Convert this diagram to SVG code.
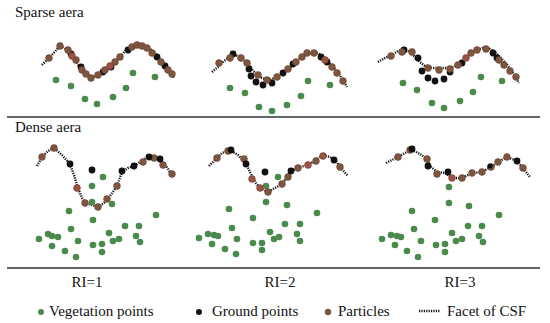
<svg xmlns="http://www.w3.org/2000/svg" width="550" height="323" viewBox="0 0 550 323">
<defs>
<style>
text{font-family:"Liberation Serif","Times New Roman",serif;font-size:15px;fill:#111}
.csf{fill:none;stroke:#111;stroke-width:2.4;stroke-dasharray:1.2 1.2;stroke-linejoin:round}
.v{fill:#4a8a4c}
.g{fill:#121010}
.p{fill:#7e5640;stroke:#6a4434;stroke-width:0.6}
.pr{fill:#9a5246;stroke:#7a3c34;stroke-width:0.6}
.rule{stroke:#333;stroke-width:1.6}
</style>
</defs>
<rect width="550" height="323" fill="#fff"/>
<text x="15" y="17">Sparse aera</text>
<text x="15" y="132">Dense aera</text>
<line class="rule" x1="7" y1="117" x2="540" y2="117"/>
<line class="rule" x1="7" y1="268" x2="540" y2="268"/>

<g id="sparse-ri1">
<polyline class="csf" points="42,65 50,57 60,46 68,50 74,58 79,66 84,72 91,78 99,74 106,69 113,63 120,57 126,50 132,46 140,44 148,47 155,53 162,61 168,68 174,78"/>
<g class="v"><circle cx="56" cy="80" r="3.3"/><circle cx="71" cy="86" r="3.3"/><circle cx="85" cy="99" r="3.3"/><circle cx="97" cy="104" r="3.3"/><circle cx="113" cy="97" r="3.3"/><circle cx="126" cy="88" r="3.3"/><circle cx="133" cy="73" r="3.3"/><circle cx="155" cy="77" r="3.3"/></g>
<g class="g"><circle cx="71" cy="54" r="3.4"/><circle cx="81" cy="67" r="3.4"/><circle cx="103" cy="72" r="3.4"/><circle cx="111" cy="67" r="3.4"/><circle cx="128" cy="50" r="3.4"/><circle cx="157" cy="57" r="3.4"/><circle cx="165" cy="66" r="3.4"/></g>
<g class="p"><circle cx="49" cy="58" r="3.4"/><circle cx="60" cy="46" r="3.4"/><circle cx="68" cy="50" r="3.4"/><circle cx="76" cy="60" r="3.4"/><circle cx="82" cy="70" r="3.4"/><circle cx="86" cy="74" r="3.4"/><circle cx="91" cy="78" r="3.4"/><circle cx="98" cy="75" r="3.4"/><circle cx="105" cy="70" r="3.4"/><circle cx="115" cy="62" r="3.4"/><circle cx="120" cy="57" r="3.4"/><circle cx="132" cy="47" r="3.4"/><circle cx="137" cy="45" r="3.4"/><circle cx="142" cy="46" r="3.4"/><circle cx="147" cy="48" r="3.4"/><circle cx="152" cy="53" r="3.4"/><circle cx="161" cy="62" r="3.4"/><circle cx="168" cy="70" r="3.4"/><circle cx="172" cy="74" r="3.4"/></g>
<g class="pr"><circle cx="72" cy="56" r="3.4"/><circle cx="110" cy="66" r="3.4"/></g>
</g>

<g id="sparse-ri2">
<polyline class="csf" points="212,72 218,67 224,61 233,54 240,57 246,62 251,68 256,74 262,78 268,80 275,78 282,73 288,69 294,64 300,58 306,54 312,53 318,53 323,57 328,62 333,67 338,73 343,80 347,87"/>
<g class="v"><circle cx="230" cy="88" r="3.3"/><circle cx="245" cy="93" r="3.3"/><circle cx="259" cy="107" r="3.3"/><circle cx="272" cy="111" r="3.3"/><circle cx="287" cy="105" r="3.3"/><circle cx="301" cy="96" r="3.3"/><circle cx="308" cy="81" r="3.3"/><circle cx="330" cy="85" r="3.3"/></g>
<g class="g"><circle cx="233" cy="54" r="3.4"/><circle cx="249" cy="69" r="3.4"/><circle cx="251" cy="76" r="3.4"/><circle cx="256" cy="82" r="3.4"/><circle cx="263" cy="85" r="3.4"/><circle cx="272" cy="83" r="3.4"/><circle cx="283" cy="73" r="3.4"/><circle cx="293" cy="64" r="3.4"/><circle cx="321" cy="57" r="3.4"/><circle cx="327" cy="62" r="3.4"/></g>
<g class="p"><circle cx="219" cy="63" r="3.4"/><circle cx="230" cy="58" r="3.4"/><circle cx="241" cy="58" r="3.4"/><circle cx="247" cy="63" r="3.4"/><circle cx="258" cy="75" r="3.4"/><circle cx="267" cy="80" r="3.4"/><circle cx="277" cy="77" r="3.4"/><circle cx="288" cy="69" r="3.4"/><circle cx="296" cy="62" r="3.4"/><circle cx="302" cy="57" r="3.4"/><circle cx="307" cy="53" r="3.4"/><circle cx="314" cy="53" r="3.4"/><circle cx="332" cy="67" r="3.4"/><circle cx="337" cy="73" r="3.4"/><circle cx="343" cy="81" r="3.4"/></g>
<g class="pr"><circle cx="325" cy="60" r="3.4"/></g>
</g>

<g id="sparse-ri3">
<polyline class="csf" points="378,62 385,58 392,55 398,51 404,49 410,52 415,57 420,62 425,66 432,68 440,68 448,68 454,67 460,63 465,59 470,54 476,50 483,48 490,49 496,53 502,59 508,66 513,73 519,83"/>
<g class="v"><circle cx="403" cy="83" r="3.3"/><circle cx="417" cy="90" r="3.3"/><circle cx="432" cy="103" r="3.3"/><circle cx="444" cy="108" r="3.3"/><circle cx="460" cy="101" r="3.3"/><circle cx="473" cy="92" r="3.3"/><circle cx="481" cy="77" r="3.3"/><circle cx="502" cy="81" r="3.3"/></g>
<g class="g"><circle cx="404" cy="50" r="3.4"/><circle cx="418" cy="58" r="3.4"/><circle cx="422" cy="71" r="3.4"/><circle cx="428" cy="78" r="3.4"/><circle cx="435" cy="81" r="3.4"/><circle cx="444" cy="79" r="3.4"/><circle cx="450" cy="72" r="3.4"/><circle cx="462" cy="63" r="3.4"/><circle cx="493" cy="53" r="3.4"/><circle cx="497" cy="58" r="3.4"/></g>
<g class="p"><circle cx="391" cy="56" r="3.4"/><circle cx="402" cy="52" r="3.4"/><circle cx="412" cy="52" r="3.4"/><circle cx="428" cy="68" r="3.4"/><circle cx="439" cy="70" r="3.4"/><circle cx="450" cy="69" r="3.4"/><circle cx="458" cy="65" r="3.4"/><circle cx="471" cy="53" r="3.4"/><circle cx="477" cy="50" r="3.4"/><circle cx="486" cy="49" r="3.4"/><circle cx="499" cy="60" r="3.4"/><circle cx="504" cy="65" r="3.4"/><circle cx="510" cy="71" r="3.4"/><circle cx="516" cy="77" r="3.4"/></g>
<g class="pr"><circle cx="466" cy="58" r="3.4"/></g>
</g>

<g id="dense-ri1">
<polyline class="csf" points="37,166 42,157 48,151 54,148 62,155 70,164 74,175 78,188 82,198 86,203 92,205 98,207 104,203 110,196 117,186 122,172 128,168 134,166 140,162 148,157 155,158 160,159 166,166 172,175"/>
<g class="v"><circle cx="103" cy="177" r="3.3"/><circle cx="92" cy="186" r="3.3"/><circle cx="92" cy="202" r="3.3"/><circle cx="112" cy="204" r="3.3"/><circle cx="69" cy="211" r="3.3"/><circle cx="156" cy="215" r="3.3"/><circle cx="93" cy="220" r="3.3"/><circle cx="71" cy="229" r="3.3"/><circle cx="125" cy="226" r="3.3"/><circle cx="139" cy="226" r="3.3"/><circle cx="39" cy="239" r="3.3"/><circle cx="48" cy="234" r="3.3"/><circle cx="52" cy="236" r="3.3"/><circle cx="58" cy="237" r="3.3"/><circle cx="109" cy="233" r="3.3"/><circle cx="136" cy="236" r="3.3"/><circle cx="78" cy="241" r="3.3"/><circle cx="113" cy="241" r="3.3"/><circle cx="119" cy="239" r="3.3"/><circle cx="52" cy="246" r="3.3"/><circle cx="93" cy="245" r="3.3"/><circle cx="102" cy="244" r="3.3"/><circle cx="140" cy="242" r="3.3"/><circle cx="65" cy="251" r="3.3"/><circle cx="102" cy="252" r="3.3"/><circle cx="76" cy="257" r="3.3"/></g>
<g class="p"><circle cx="42" cy="157" r="3.4"/><circle cx="54" cy="148" r="3.4"/><circle cx="85" cy="203" r="3.4"/><circle cx="98" cy="207" r="3.4"/><circle cx="107" cy="199" r="3.4"/><circle cx="117" cy="186" r="3.4"/><circle cx="143" cy="162" r="3.4"/><circle cx="154" cy="158" r="3.4"/><circle cx="163" cy="165" r="3.4"/><circle cx="172" cy="174" r="3.4"/></g>
<g class="pr"><circle cx="77" cy="188" r="3.4"/></g>
<g class="g"><circle cx="70" cy="164" r="3.4"/><circle cx="92" cy="170" r="3.4"/><circle cx="122" cy="171" r="3.4"/><circle cx="134" cy="166" r="3.4"/><circle cx="149" cy="157" r="3.4"/><circle cx="160" cy="159" r="3.4"/></g>
</g>

<g id="dense-ri2">
<polyline class="csf" points="209,166 215,160 222,153 230,150 238,155 246,163 250,172 255,182 260,188 268,192 275,188 282,184 288,176 293,170 300,167 308,165 316,160 323,155 330,157 336,161 340,167 348,176"/>
<g class="v"><circle cx="278" cy="177" r="3.3"/><circle cx="266" cy="186" r="3.3"/><circle cx="266" cy="202" r="3.3"/><circle cx="287" cy="205" r="3.3"/><circle cx="229" cy="209" r="3.3"/><circle cx="253" cy="218" r="3.3"/><circle cx="317" cy="213" r="3.3"/><circle cx="232" cy="228" r="3.3"/><circle cx="285" cy="224" r="3.3"/><circle cx="300" cy="224" r="3.3"/><circle cx="199" cy="238" r="3.3"/><circle cx="208" cy="234" r="3.3"/><circle cx="214" cy="235" r="3.3"/><circle cx="218" cy="236" r="3.3"/><circle cx="237" cy="239" r="3.3"/><circle cx="270" cy="232" r="3.3"/><circle cx="274" cy="239" r="3.3"/><circle cx="279" cy="237" r="3.3"/><circle cx="297" cy="234" r="3.3"/><circle cx="300" cy="241" r="3.3"/><circle cx="212" cy="244" r="3.3"/><circle cx="253" cy="243" r="3.3"/><circle cx="262" cy="243" r="3.3"/><circle cx="262" cy="250" r="3.3"/><circle cx="225" cy="249" r="3.3"/><circle cx="236" cy="254" r="3.3"/></g>
<g class="p"><circle cx="217" cy="158" r="3.4"/><circle cx="228" cy="151" r="3.4"/><circle cx="244" cy="159" r="3.4"/><circle cx="268" cy="192" r="3.4"/><circle cx="282" cy="184" r="3.4"/><circle cx="288" cy="177" r="3.4"/><circle cx="298" cy="168" r="3.4"/><circle cx="316" cy="161" r="3.4"/><circle cx="340" cy="167" r="3.4"/></g>
<g class="pr"><circle cx="252" cy="179" r="3.4"/><circle cx="260" cy="188" r="3.4"/><circle cx="308" cy="165" r="3.4"/><circle cx="323" cy="156" r="3.4"/></g>
<g class="g"><circle cx="231" cy="150" r="3.4"/><circle cx="246" cy="164" r="3.4"/><circle cx="265" cy="172" r="3.4"/><circle cx="291" cy="171" r="3.4"/><circle cx="334" cy="160" r="3.4"/></g>
</g>

<g id="dense-ri3">
<polyline class="csf" points="386,163 392,160 398,157 405,153 412,150 420,154 427,159 430,166 437,172 445,173 452,178 462,178 472,173 482,172 491,167 498,162 507,157 517,161 523,168 530,177"/>
<g class="v"><circle cx="449" cy="187" r="3.3"/><circle cx="449" cy="203" r="3.3"/><circle cx="469" cy="206" r="3.3"/><circle cx="412" cy="211" r="3.3"/><circle cx="435" cy="220" r="3.3"/><circle cx="499" cy="215" r="3.3"/><circle cx="414" cy="229" r="3.3"/><circle cx="468" cy="226" r="3.3"/><circle cx="482" cy="226" r="3.3"/><circle cx="382" cy="239" r="3.3"/><circle cx="391" cy="235" r="3.3"/><circle cx="397" cy="236" r="3.3"/><circle cx="401" cy="237" r="3.3"/><circle cx="421" cy="241" r="3.3"/><circle cx="452" cy="233" r="3.3"/><circle cx="456" cy="241" r="3.3"/><circle cx="462" cy="239" r="3.3"/><circle cx="479" cy="236" r="3.3"/><circle cx="483" cy="242" r="3.3"/><circle cx="395" cy="245" r="3.3"/><circle cx="436" cy="245" r="3.3"/><circle cx="445" cy="244" r="3.3"/><circle cx="445" cy="252" r="3.3"/><circle cx="407" cy="251" r="3.3"/><circle cx="418" cy="257" r="3.3"/></g>
<g class="p"><circle cx="398" cy="157" r="3.4"/><circle cx="410" cy="150" r="3.4"/><circle cx="427" cy="159" r="3.4"/><circle cx="437" cy="174" r="3.4"/><circle cx="462" cy="178" r="3.4"/><circle cx="472" cy="173" r="3.4"/><circle cx="482" cy="172" r="3.4"/><circle cx="491" cy="167" r="3.4"/><circle cx="498" cy="162" r="3.4"/><circle cx="507" cy="157" r="3.4"/><circle cx="523" cy="168" r="3.4"/></g>
<g class="pr"><circle cx="452" cy="178" r="3.4"/></g>
<g class="g"><circle cx="412" cy="149" r="3.4"/><circle cx="428" cy="166" r="3.4"/><circle cx="448" cy="172" r="3.4"/><circle cx="490" cy="166" r="2.6"/><circle cx="517" cy="161" r="3.4"/></g>
</g>

<g id="labels">
<text x="87" y="287" text-anchor="middle">RI=1</text>
<text x="280" y="287" text-anchor="middle">RI=2</text>
<text x="460" y="287" text-anchor="middle">RI=3</text>
</g>

<g id="legend">
<circle class="v" cx="41" cy="312" r="3"/>
<text x="49" y="316">Vegetation points</text>
<circle class="g" cx="199" cy="312" r="3"/>
<text x="212" y="316">Ground points</text>
<circle class="p" cx="328" cy="312" r="3"/>
<text x="338" y="316">Particles</text>
<line class="csf" x1="419" y1="311" x2="440" y2="311"/>
<text x="447" y="316">Facet of CSF</text>
</g>
</svg>
